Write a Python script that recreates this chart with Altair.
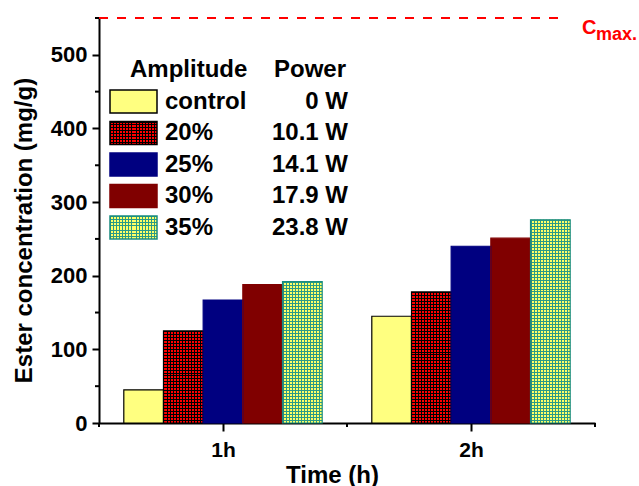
import altair as alt
import pandas as pd

# ---------------- data ----------------
times = [1, 2]
amplitudes = ["control", "20%", "25%", "30%", "35%"]
powers = ["0 W", "10.1 W", "14.1 W", "17.9 W", "23.8 W"]
values_1h = [45, 125, 167, 188, 192]
values_2h = [145, 178, 240, 251, 276]
y_ticks = [0, 100, 200, 300, 400, 500]
y_minor = [50, 150, 250, 350, 450, 550]
x_ticks = [1, 2]
x_minor = [0.5, 1.5, 2.5]
c_max = [550]

fills = ["#ffff80", "#ff0000", "#000080", "#800000", "#ffff66"]
strokes = ["#000000", "#000000", "#000080", "#800000", "#1a8c80"]
pattern_ink = {"20%": "#000000", "35%": "#2a9a86"}

# ---------------- layout ----------------
W, H = 496, 405
Y_MAX = 550
FONT = "Liberation Sans"
CLEAR = "rgba(0,0,0,0)"
PERIOD = 3.0      # hatch period in px
BAR_W = 0.16      # bar width in x units
SW_W, SW_H = 47, 23   # legend swatch size in px

rows = []
for t, vals in zip(times, [values_1h, values_2h]):
    for i, (a, v) in enumerate(zip(amplitudes, vals)):
        rows.append({"time": t, "idx": i, "amplitude": a, "value": v})
bars_df = pd.DataFrame(rows)

legend_df = pd.DataFrame({"amplitude": amplitudes, "power": powers,
                          "row": list(range(len(amplitudes)))})
header_df = pd.DataFrame({"row": [-1, -1], "text": ["Amplitude", "Power"],
                          "col": ["a", "p"]})

xs = alt.Scale(domain=[0.5, 2.5], nice=False, zero=False)
ys = alt.Scale(domain=[0, Y_MAX], nice=False)
ls = alt.Scale(domain=[-1, 4], range=[52, 209.5], nice=False, zero=False)
fill_scale = alt.Scale(domain=amplitudes, range=fills)
stroke_scale = alt.Scale(domain=amplitudes, range=strokes)


def stripes(color, length_px, horizontal):
    """1px hatch lines, period close to PERIOD, across a box of given length."""
    n = max(1, round(length_px / PERIOD))
    frac = min(0.9, n / length_px)
    stops = []
    for k in range(n):
        a = k / n
        b = (k + frac) / n
        c = (k + 1) / n
        stops += [alt.GradientStop(color=color, offset=a),
                  alt.GradientStop(color=color, offset=b),
                  alt.GradientStop(color=CLEAR, offset=b),
                  alt.GradientStop(color=CLEAR, offset=c)]
    if horizontal:
        return alt.LinearGradient(gradient="linear", stops=stops, x1=0, x2=0, y1=0, y2=1)
    return alt.LinearGradient(gradient="linear", stops=stops, x1=0, x2=1, y1=0, y2=0)


x_axis = alt.Axis(values=x_ticks, labelExpr="datum.value + 'h'", tickSize=8, tickWidth=2,
                  tickColor="black", domainColor="black", domainWidth=2, grid=False,
                  labelFont=FONT, labelFontSize=21, labelFontWeight="bold", labelColor="black",
                  labelPadding=8, titleFont=FONT, titleFontSize=24, titleFontWeight="bold",
                  titleColor="black", titleX=233, titleY=59, titleAlign="center",
                  titleBaseline="alphabetic")
y_axis = alt.Axis(values=y_ticks, tickSize=7, tickWidth=2, tickColor="black",
                  domainColor="black", domainWidth=2, grid=False,
                  labelFont=FONT, labelFontSize=22, labelFontWeight="bold", labelColor="black",
                  labelPadding=5, titleFont=FONT, titleFontSize=24, titleFontWeight="bold",
                  titleColor="black", titleAngle=270, titleX=-68, titleY=212,
                  titleAlign="center", titleBaseline="alphabetic")

base = alt.Chart(bars_df).transform_calculate(
    x0=f"datum.time - 0.4 + datum.idx * {BAR_W}",
    x1=f"datum.time - 0.4 + (datum.idx + 1) * {BAR_W}",
)

bars = base.mark_rect(strokeWidth=0).encode(
    x=alt.X("x0:Q", scale=xs, axis=x_axis, title="Time (h)"),
    x2="x1:Q",
    y=alt.Y("value:Q", scale=ys, axis=y_axis, title="Ester concentration (mg/g)"),
    y2=alt.datum(0),
    fill=alt.Fill("amplitude:N", scale=fill_scale, legend=None),
)

layers = [bars]
px_per_unit = H / Y_MAX
bar_w_px = BAR_W * W / 2.0
for amp, ink in pattern_ink.items():
    layers.append(base.transform_filter(alt.datum.amplitude == amp).mark_rect(
        strokeWidth=0, fill=stripes(ink, bar_w_px, False)).encode(
        x=alt.X("x0:Q", scale=xs, axis=None), x2="x1:Q",
        y=alt.Y("value:Q", scale=ys, axis=None), y2=alt.datum(0)))
    for t, vals in zip(times, [values_1h, values_2h]):
        v = vals[amplitudes.index(amp)]
        layers.append(base.transform_filter(
            (alt.datum.amplitude == amp) & (alt.datum.time == t)).mark_rect(
            strokeWidth=0, fill=stripes(ink, v * px_per_unit, True)).encode(
            x=alt.X("x0:Q", scale=xs, axis=None), x2="x1:Q",
            y=alt.Y("value:Q", scale=ys, axis=None), y2=alt.datum(0)))

outlines = base.mark_rect(fillOpacity=0, strokeWidth=1.2).encode(
    x=alt.X("x0:Q", scale=xs, axis=None), x2="x1:Q",
    y=alt.Y("value:Q", scale=ys, axis=None), y2=alt.datum(0),
    stroke=alt.Stroke("amplitude:N", scale=stroke_scale, legend=None),
)
layers.append(outlines)

# minor ticks
y_minor_df = pd.DataFrame({"v": y_minor})
x_minor_df = pd.DataFrame({"v": x_minor})
layers.append(alt.Chart(y_minor_df).mark_rule(color="black", strokeWidth=2).encode(
    y=alt.Y("v:Q", scale=ys, axis=None), x=alt.value(-4), x2=alt.value(0)))
layers.append(alt.Chart(x_minor_df).mark_rule(color="black", strokeWidth=2).encode(
    x=alt.X("v:Q", scale=xs, axis=None), y=alt.value(H), y2=alt.value(H + 4)))

# C max line and label
cmax_df = pd.DataFrame({"v": c_max})
layers.append(alt.Chart(cmax_df).mark_rule(color="#ff0000", strokeWidth=2,
                                           strokeDash=[9, 9]).encode(
    y=alt.Y("v:Q", scale=ys, axis=None), x=alt.value(0), x2=alt.value(466)))
layers.append(alt.Chart(cmax_df).mark_text(text="C", color="#ff0000", font=FONT, fontSize=20,
                                           fontWeight="bold", align="left",
                                           baseline="alphabetic", dy=16).encode(
    y=alt.Y("v:Q", scale=ys, axis=None), x=alt.value(483)))
layers.append(alt.Chart(cmax_df).mark_text(text="max.", color="#ff0000", font=FONT,
                                           fontSize=18, fontWeight="bold", align="left",
                                           baseline="alphabetic", dy=22).encode(
    y=alt.Y("v:Q", scale=ys, axis=None), x=alt.value(497)))

# legend
lbase = alt.Chart(legend_df).transform_calculate(top="datum.row - 0.365",
                                                 bot="datum.row + 0.365")
layers.append(lbase.mark_rect(strokeWidth=0).encode(
    y=alt.Y("top:Q", scale=ls, axis=None), y2="bot:Q",
    x=alt.value(11), x2=alt.value(11 + SW_W),
    fill=alt.Fill("amplitude:N", scale=fill_scale, legend=None)))
for amp, ink in pattern_ink.items():
    lf = lbase.transform_filter(alt.datum.amplitude == amp)
    layers.append(lf.mark_rect(strokeWidth=0, fill=stripes(ink, SW_W, False)).encode(
        y=alt.Y("top:Q", scale=ls, axis=None), y2="bot:Q",
        x=alt.value(11), x2=alt.value(11 + SW_W)))
    layers.append(lf.mark_rect(strokeWidth=0, fill=stripes(ink, SW_H, True)).encode(
        y=alt.Y("top:Q", scale=ls, axis=None), y2="bot:Q",
        x=alt.value(11), x2=alt.value(11 + SW_W)))
layers.append(lbase.mark_rect(fillOpacity=0, strokeWidth=1.5).encode(
    y=alt.Y("top:Q", scale=ls, axis=None), y2="bot:Q",
    x=alt.value(11), x2=alt.value(11 + SW_W),
    stroke=alt.Stroke("amplitude:N", scale=stroke_scale, legend=None)))

text_style = dict(font=FONT, fontSize=24, fontWeight="bold", color="black",
                  baseline="middle")
layers.append(alt.Chart(legend_df).mark_text(align="left", **text_style).encode(
    y=alt.Y("row:Q", scale=ls, axis=None), x=alt.value(66), text="amplitude:N"))
layers.append(alt.Chart(legend_df).mark_text(align="right", **text_style).encode(
    y=alt.Y("row:Q", scale=ls, axis=None), x=alt.value(249), text="power:N"))
layers.append(alt.Chart(header_df).transform_filter(alt.datum.col == "a").mark_text(
    align="left", **text_style).encode(
    y=alt.Y("row:Q", scale=ls, axis=None), x=alt.value(31), text="text:N"))
layers.append(alt.Chart(header_df).transform_filter(alt.datum.col == "p").mark_text(
    align="left", **text_style).encode(
    y=alt.Y("row:Q", scale=ls, axis=None), x=alt.value(175), text="text:N"))

chart = alt.layer(*layers).resolve_scale(
    x="independent", y="independent", fill="independent", stroke="independent"
).properties(
    width=W, height=H,
    autosize=alt.AutoSizeParams(type="none"),
    padding={"left": 99, "top": 18, "right": 44, "bottom": 63},
    background="white",
).configure_view(strokeWidth=0)

chart.save("out.html", embed_options={"renderer": "svg", "actions": False})
